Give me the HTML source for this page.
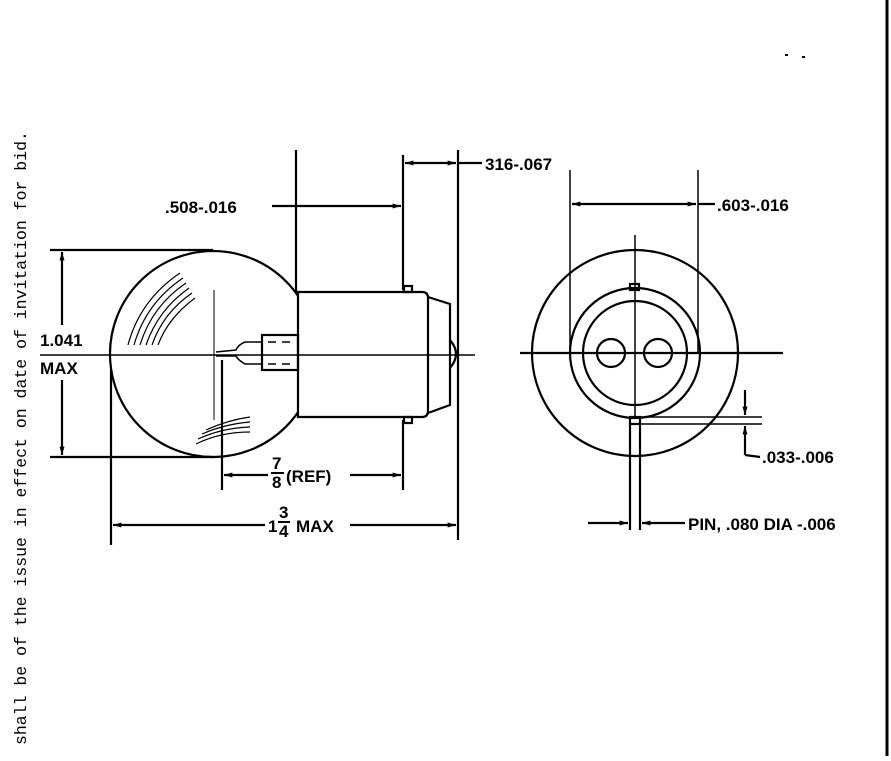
<!DOCTYPE html>
<html><head><style>
body{margin:0;background:#fff;width:891px;height:756px;overflow:hidden}
text{font-family:"Liberation Sans",sans-serif;font-weight:bold;font-size:17px;fill:#000}
</style></head><body>
<svg width="891" height="756" viewBox="0 0 891 756" xmlns="http://www.w3.org/2000/svg">
<defs><marker id="a" viewBox="0 0 10 6" refX="10" refY="3" markerWidth="12" markerHeight="5" markerUnits="userSpaceOnUse" orient="auto-start-reverse"><path d="M0,0L10,3L0,6z" fill="#000"/></marker></defs>
<g stroke="#000" stroke-width="2.2" fill="none">
<line x1="887" y1="0" x2="887" y2="756" stroke-width="3"/>
<circle cx="213" cy="354" r="103"/>
<path d="M298,292 H422 Q428,292 428,298 V411 Q428,417 422,417 H298 Z" fill="#fff"/>
<path d="M428,297 L450,304 L450,405 L428,413"/>
<path d="M450,340 Q462,354 450,368"/>
<rect x="404" y="286" width="8" height="6"/><rect x="404" y="417" width="8" height="6"/>
<rect x="262" y="335" width="36" height="35"/>
<path d="M268,342 H276 M282,342 H290 M268,364 H276 M282,364 H290" stroke-width="1.5"/>
<path d="M262,342 H245 Q238,345 236,350 L216,352 M262,364 H245 Q238,360 236,356 L216,356" stroke-width="1.5"/>
<line x1="40" y1="355" x2="475" y2="355" stroke-width="1.5"/>
<line x1="214" y1="290" x2="214" y2="420" stroke-width="1"/>
<path d="M128,345 Q140,300 180,273 M134,345 Q146,303 183,278 M140,345 Q152,306 186,283 M146,345 Q158,310 189,288 M152,345 Q163,313 192,293 M158,345 Q168,318 195,298 M196,444 Q220,432 250,432 M198,439 Q222,428 250,427 M202,434 Q225,424 250,422 M206,430 Q228,420 250,417" stroke-width="1.2"/>
<line x1="296" y1="150" x2="296" y2="292"/>
<line x1="403" y1="155" x2="403" y2="290"/>
<line x1="403" y1="420" x2="403" y2="490"/>
<line x1="458" y1="150" x2="458" y2="540"/>
<line x1="222" y1="360" x2="222" y2="490"/>
<line x1="111" y1="370" x2="111" y2="545"/>
<line x1="50" y1="250" x2="213" y2="250"/><line x1="50" y1="457" x2="213" y2="457"/>
<line x1="62" y1="252" x2="62" y2="325" marker-start="url(#a)"/>
<line x1="62" y1="380" x2="62" y2="455" marker-end="url(#a)"/>
<line x1="272" y1="206" x2="401" y2="206" marker-end="url(#a)"/>
<line x1="405" y1="163" x2="456" y2="163" marker-start="url(#a)" marker-end="url(#a)"/>
<line x1="458" y1="163" x2="482" y2="163"/>
<line x1="224" y1="475" x2="268" y2="475" marker-start="url(#a)"/>
<line x1="350" y1="475" x2="401" y2="475" marker-end="url(#a)"/>
<line x1="113" y1="525" x2="265" y2="525" marker-start="url(#a)"/>
<line x1="350" y1="525" x2="456" y2="525" marker-end="url(#a)"/>
<circle cx="635" cy="353" r="103"/>
<circle cx="635" cy="353" r="65"/>
<circle cx="635" cy="353" r="52"/>
<circle cx="611" cy="353" r="14"/>
<circle cx="658" cy="353" r="14"/>
<rect x="630" y="284" width="9" height="6"/>
<rect x="630" y="417" width="10" height="7"/>
<line x1="520" y1="353" x2="783" y2="353"/>
<line x1="635" y1="235" x2="635" y2="417" stroke-width="1.5"/>
<line x1="630" y1="424" x2="630" y2="530"/><line x1="640" y1="424" x2="640" y2="530"/>
<line x1="570" y1="170" x2="570" y2="353" stroke-width="1.5"/>
<line x1="698" y1="170" x2="698" y2="353" stroke-width="1.5"/>
<line x1="572" y1="204" x2="696" y2="204" marker-start="url(#a)" marker-end="url(#a)"/>
<line x1="698" y1="204" x2="715" y2="204"/>
<line x1="640" y1="417" x2="762" y2="417" stroke-width="1.5"/>
<line x1="640" y1="424" x2="762" y2="424" stroke-width="1.5"/>
<line x1="745" y1="390" x2="745" y2="415" marker-end="url(#a)"/>
<path d="M745,455 V426" marker-end="url(#a)"/>
<line x1="745" y1="455" x2="760" y2="457"/>
<line x1="588" y1="523" x2="628" y2="523" marker-end="url(#a)"/>
<line x1="685" y1="523" x2="642" y2="523" marker-end="url(#a)"/>
<path d="M785,55h3M802,57h3" stroke-width="2"/>
</g>
<text x="165" y="213">.508-.016</text>
<text x="485" y="170">316-.067</text>
<text x="717" y="211">.603-.016</text>
<text x="762" y="463">.033-.006</text>
<text x="688" y="530">PIN, .080 DIA -.006</text>
<text x="40" y="346">1.041</text>
<text x="40" y="374">MAX</text>
<text x="272" y="469" font-size="15">7</text>
<line x1="271" y1="473" x2="284" y2="473" stroke="#000" stroke-width="2"/>
<text x="272" y="488" font-size="15">8</text>
<text x="286" y="482">(REF)</text>
<text x="268" y="532">1</text>
<text x="279" y="518" font-size="14">3</text>
<line x1="278" y1="522" x2="290" y2="522" stroke="#000" stroke-width="2"/>
<text x="279" y="537" font-size="14">4</text>
<text x="296" y="532">MAX</text>
<text transform="translate(26,745) rotate(-90)" style="font-family:'Liberation Mono',monospace;font-weight:normal;font-size:16.5px">shall be of the issue in effect on date of invitation for bid.</text>
</svg>
</body></html>
